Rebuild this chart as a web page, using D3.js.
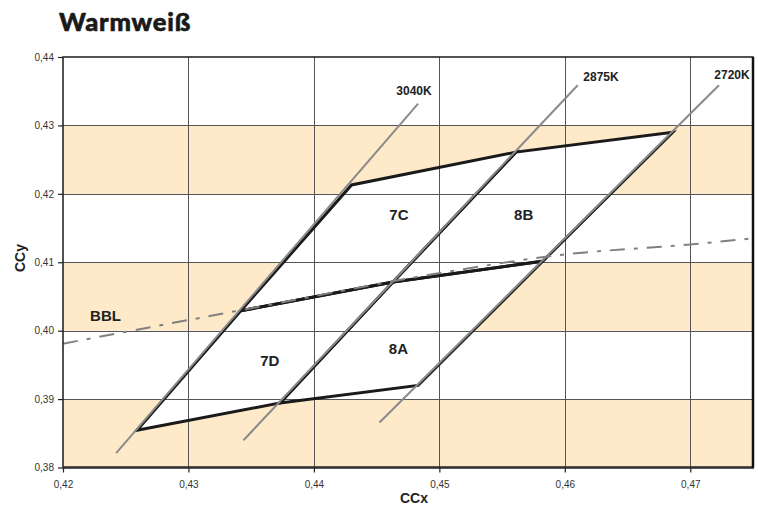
<!DOCTYPE html>
<html><head><meta charset="utf-8">
<script src="https://cdn.jsdelivr.net/npm/d3@7"></script>
<style>
html,body{margin:0;padding:0;background:#fff;}
svg{display:block;}
</style></head>
<body>
<svg id="chart" width="758" height="509"></svg>
<script>
// ---- data ----
const title = "Warmweiß";
const xLabel = "CCx";
const yLabel = "CCy";
const xTicks = [0.42, 0.43, 0.44, 0.45, 0.46, 0.47];
const yTicks = [0.38, 0.39, 0.40, 0.41, 0.42, 0.43, 0.44];
const bands = [[0.38, 0.39], [0.40, 0.41], [0.42, 0.43]];
// CCT lines: name, start, end
const cctNames = ["3040K", "2875K", "2720K"];
const cctStart = [[0.4243, 0.3820], [0.43445, 0.3839], [0.44529, 0.3865]];
const cctEnd = [[0.44837, 0.4331], [0.46109, 0.43578], [0.47235, 0.43578]];
// bin corners on each CCT line: bottom, middle, top
const corners3040 = [[0.4259, 0.38545], [0.43417, 0.40291], [0.4430, 0.4213]];
const corners2875 = [[0.4373, 0.38943], [0.4463, 0.4071], [0.4561, 0.4261]];
const corners2720 = [[0.4483, 0.3920], [0.45824, 0.41016], [0.4686, 0.4290]];
const binNames = ["7D", "8A", "7C", "8B"];
const binLabelPos = [[0.43648, 0.39561], [0.44674, 0.39732], [0.44678, 0.41691], [0.45672, 0.41691]];
// Black body locus
const bblX = [0.420, 0.4342, 0.4506, 0.4598, 0.4700, 0.4750];
const bblY = [0.3981, 0.4030, 0.4086, 0.4111, 0.4126, 0.4135];
const bblLabel = "BBL";
const bblLabelPos = [0.42339, 0.40214];

// ---- chart ----
const svg = d3.select("#chart");
const x = d3.scaleLinear().domain([0.42, 0.475]).range([63, 753]);
const y = d3.scaleLinear().domain([0.38, 0.44]).range([467.5, 57]);
const fmt = d => d.toFixed(2).replace(".", ",");

svg.append("text").attr("x", 59).attr("y", 31)
  .attr("font-family", "Lato, 'DejaVu Sans', sans-serif").attr("font-weight", 900)
  .attr("font-size", 25.5).attr("letter-spacing", 0.8)
  .attr("stroke", "#1a1a1a").attr("stroke-width", 0.6)
  .attr("fill", "#1a1a1a").text(title);

// bands
svg.append("g").selectAll("rect").data(bands).join("rect")
  .attr("x", x(0.42)).attr("width", x(0.475) - x(0.42))
  .attr("y", d => y(d[1])).attr("height", d => y(d[0]) - y(d[1]))
  .attr("fill", "#fee9c8");

// bins
const bins = [
  [corners3040[0], corners2875[0], corners2875[1], corners3040[1]],
  [corners2875[0], corners2720[0], corners2720[1], corners2875[1]],
  [corners3040[1], corners2875[1], corners2875[2], corners3040[2]],
  [corners2875[1], corners2720[1], corners2720[2], corners2875[2]]
];
const poly = d3.line().x(d => x(d[0])).y(d => y(d[1]));
svg.append("g").selectAll("path").data(bins).join("path")
  .attr("d", d => poly(d) + "Z").attr("fill", "#fff").attr("stroke", "none");

// grid
const grid = svg.append("g").attr("stroke", "#555").attr("stroke-width", 1);
grid.selectAll("line.v").data(xTicks.slice(1)).join("line").attr("class", "v")
  .attr("x1", d => Math.round(x(d)) + 0.5).attr("x2", d => Math.round(x(d)) + 0.5)
  .attr("y1", y(0.44)).attr("y2", y(0.38));
grid.selectAll("line.h").data(yTicks.slice(1, -1)).join("line").attr("class", "h")
  .attr("y1", d => Math.round(y(d)) + 0.5).attr("y2", d => Math.round(y(d)) + 0.5)
  .attr("x1", x(0.42)).attr("x2", x(0.475));

// bin outlines
svg.append("g").selectAll("path").data(bins).join("path")
  .attr("d", d => poly(d) + "Z").attr("fill", "none")
  .attr("stroke", "#1a1a1a").attr("stroke-width", 3).attr("stroke-linejoin", "miter");

// CCT lines
svg.append("g").attr("transform", "translate(-0.8,-0.6)").selectAll("line").data(cctNames).join("line")
  .attr("x1", (d, i) => x(cctStart[i][0])).attr("y1", (d, i) => y(cctStart[i][1]))
  .attr("x2", (d, i) => x(cctEnd[i][0])).attr("y2", (d, i) => y(cctEnd[i][1]))
  .attr("stroke", "#8a8a8a").attr("stroke-width", 2);

// BBL
svg.append("path").datum(bblX.map((v, i) => [v, bblY[i]]))
  .attr("d", d3.line().x(d => x(d[0])).y(d => y(d[1])).curve(d3.curveMonotoneX))
  .attr("fill", "none").attr("stroke", "#808080").attr("stroke-width", 2)
  .attr("stroke-dasharray", "15,9,4,9");

// frame
svg.append("rect").attr("x", x(0.42)).attr("y", y(0.44))
  .attr("width", x(0.475) - x(0.42)).attr("height", y(0.38) - y(0.44))
  .attr("fill", "none").attr("stroke", "#1a1a1a").attr("stroke-width", 1.5);
svg.append("line").attr("x1", x(0.42)).attr("x2", x(0.475) + 1)
  .attr("y1", y(0.38)).attr("y2", y(0.38)).attr("stroke", "#333").attr("stroke-width", 2.5);
svg.append("line").attr("x1", x(0.475)).attr("x2", x(0.475))
  .attr("y1", y(0.44)).attr("y2", y(0.38)).attr("stroke", "#111").attr("stroke-width", 2.5);

// axes
const yAxis = svg.append("g").attr("transform", `translate(${x(0.42)},0)`)
  .call(d3.axisLeft(y).tickValues(yTicks).tickFormat(fmt).tickSize(5).tickPadding(4));
const xAxis = svg.append("g").attr("transform", `translate(0,${y(0.38)})`)
  .call(d3.axisBottom(x).tickValues(xTicks).tickFormat(fmt).tickSize(5).tickPadding(8));
[yAxis, xAxis].forEach(a => {
  a.select(".domain").remove();
  a.selectAll(".tick line").attr("stroke", "#222").attr("stroke-width", 1.2);
  a.selectAll(".tick text").attr("font-family", "'Liberation Sans', Arial, sans-serif")
    .attr("font-size", 10).attr("fill", "#333");
});

// axis titles
svg.append("text").attr("x", 414).attr("y", 503).attr("text-anchor", "middle")
  .attr("font-family", "'Liberation Sans', Arial, sans-serif").attr("font-weight", "bold")
  .attr("font-size", 14).attr("fill", "#222").text(xLabel);
svg.append("text").attr("transform", "translate(25,258) rotate(-90)").attr("text-anchor", "middle")
  .attr("font-family", "'Liberation Sans', Arial, sans-serif").attr("font-weight", "bold")
  .attr("font-size", 14).attr("fill", "#222").text(yLabel);

// CCT labels
const cctLabelPos = [[414, 95], [601, 81], [732, 79]];
svg.append("g").selectAll("text").data(cctNames).join("text")
  .attr("x", (d, i) => cctLabelPos[i][0]).attr("y", (d, i) => cctLabelPos[i][1])
  .attr("text-anchor", "middle")
  .attr("font-family", "'Liberation Sans', Arial, sans-serif").attr("font-weight", "bold")
  .attr("font-size", 12).attr("fill", "#222").text(d => d);

// bin labels
svg.append("g").selectAll("text").data(binNames).join("text")
  .attr("x", (d, i) => x(binLabelPos[i][0])).attr("y", (d, i) => y(binLabelPos[i][1]))
  .attr("text-anchor", "middle").attr("dy", "0.36em")
  .attr("font-family", "'Liberation Sans', Arial, sans-serif").attr("font-weight", "bold")
  .attr("font-size", 15).attr("fill", "#222").text(d => d);
svg.append("text").attr("x", x(bblLabelPos[0])).attr("y", y(bblLabelPos[1]))
  .attr("text-anchor", "middle").attr("dy", "0.36em")
  .attr("font-family", "'Liberation Sans', Arial, sans-serif").attr("font-weight", "bold")
  .attr("font-size", 15).attr("fill", "#222").text(bblLabel);
</script>
</body></html>
